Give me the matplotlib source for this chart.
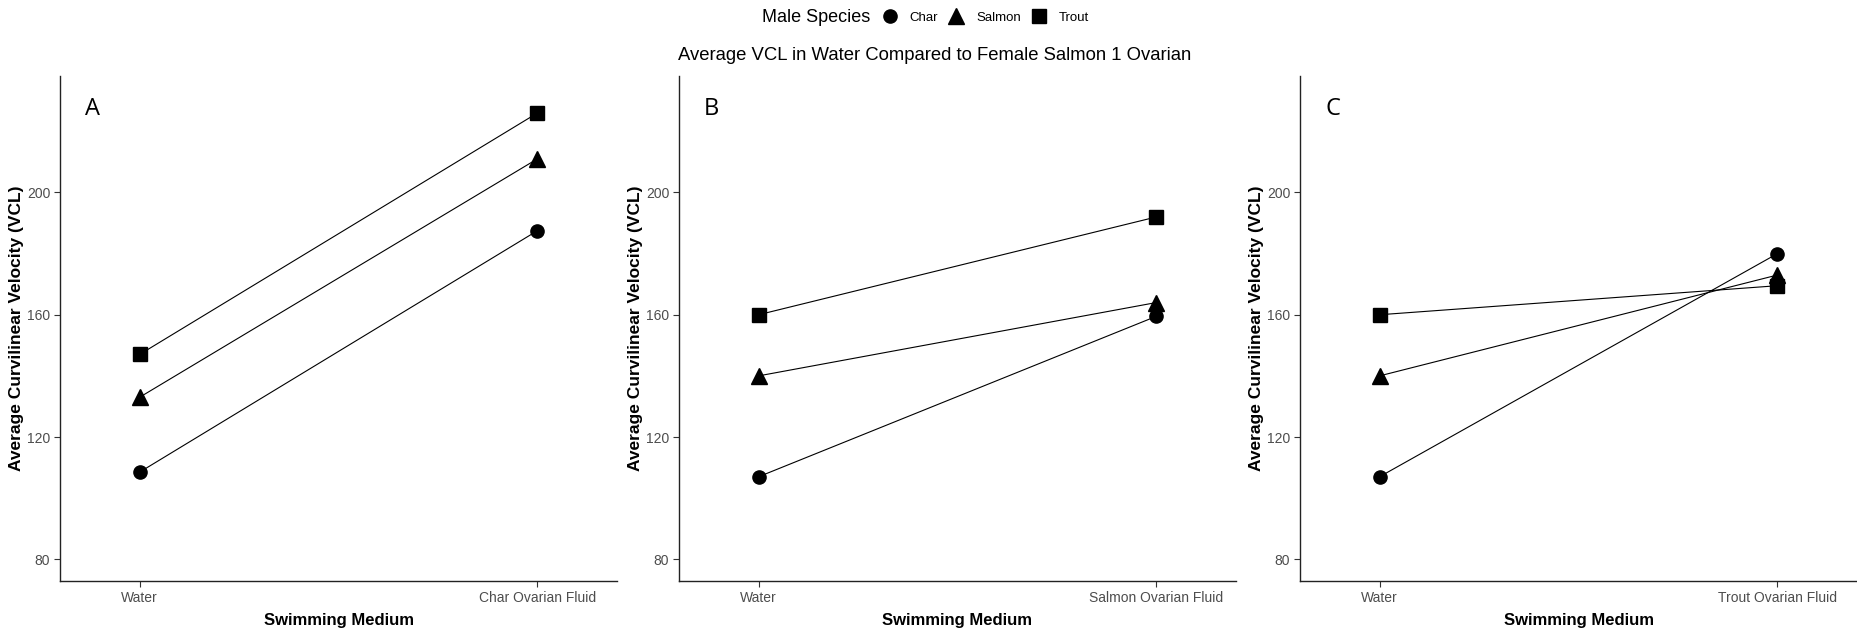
import matplotlib.pyplot as plt
from matplotlib.lines import Line2D

# Datos (VCL promedio)
species = ['Char', 'Salmon', 'Trout']
markers = ['o', '^', 's']
panel_letters = ['A', 'B', 'C']
media_A = ['Water', 'Char Ovarian Fluid']
media_B = ['Water', 'Salmon Ovarian Fluid']
media_C = ['Water', 'Trout Ovarian Fluid']

char_A = [108.5, 187.5]
salmon_A = [133, 211]
trout_A = [147, 226]

char_B = [107, 159.5]
salmon_B = [140, 164]
trout_B = [160, 192]

char_C = [107, 180]
salmon_C = [140, 173]
trout_C = [160, 169.5]

y_ticks = [80, 120, 160, 200]

W, H = 1857, 631
fig = plt.figure(figsize=(W / 100, H / 100), dpi=100)

narrow = ['Liberation Sans Narrow', 'Liberation Sans', 'DejaVu Sans']
arial = ['Liberation Sans', 'DejaVu Sans']

panels = [
    (60, media_A, [char_A, salmon_A, trout_A]),
    (679, media_B, [char_B, salmon_B, trout_B]),
    (1300, media_C, [char_C, salmon_C, trout_C]),
]

bottom, top = 581, 76
width = 557


def tam(m):
    return {'o': 9.5, '^': 11, 's': 10}[m]


for i, (left, media, series) in enumerate(panels):
    ax = fig.add_axes([left / W, (H - bottom) / H, width / W, (bottom - top) / H])
    x = list(range(1, len(media) + 1))
    for vals, m in zip(series, markers):
        ax.plot(x, vals, color='black', linewidth=0.8, marker=m, markersize=tam(m),
                markeredgecolor='black', markerfacecolor='black')
    ax.set_xlim(0.8, 2.2)
    ax.set_ylim(72.9, 238.1)
    ax.set_xticks(x)
    ax.set_xticklabels(media, family=narrow, fontsize=10, color='#4D4D4D')
    ax.set_yticks(y_ticks)
    ax.set_yticklabels([str(t) for t in y_ticks], family=narrow, fontsize=10, color='#4D4D4D')
    ax.tick_params(length=4, width=0.8, color='#333333', pad=3)
    for s in ['top', 'right']:
        ax.spines[s].set_visible(False)
    for s in ['left', 'bottom']:
        ax.spines[s].set_color('#222222')
        ax.spines[s].set_linewidth(1.0)
    ax.set_xlabel('Swimming Medium', family=narrow, fontsize=12, fontweight='bold', labelpad=6)
    ax.set_ylabel('Average Curvilinear Velocity (VCL)', family=arial, fontsize=12.5,
                  fontweight='bold', labelpad=2)
    ax.text(0.045, 0.935, panel_letters[i], transform=ax.transAxes, fontsize=17,
            family=['Open Sans', 'DejaVu Sans'], va='center', ha='left')

# Título
fig.text(935 / W, 1 - 56 / H, 'Average VCL in Water Compared to Female Salmon 1 Ovarian',
         ha='center', va='center', fontsize=13.3, family=arial)

# Leyenda arriba
fig.text(870 / W, 1 - 18 / H, 'Male Species', ha='right', va='center', fontsize=13,
         family=narrow)
handles = [Line2D([], [], linestyle='none', marker=m, color='black', markersize=tam(m))
           for m in markers]
fig.legend(handles, species, loc='center left', bbox_to_anchor=(875 / W, 1 - 18 / H),
           ncol=3, frameon=False, prop={'family': narrow, 'size': 9.5},
           handletextpad=0.9, columnspacing=0.8, handlelength=1.2, borderpad=0)

fig.savefig('out.png', dpi=100)
